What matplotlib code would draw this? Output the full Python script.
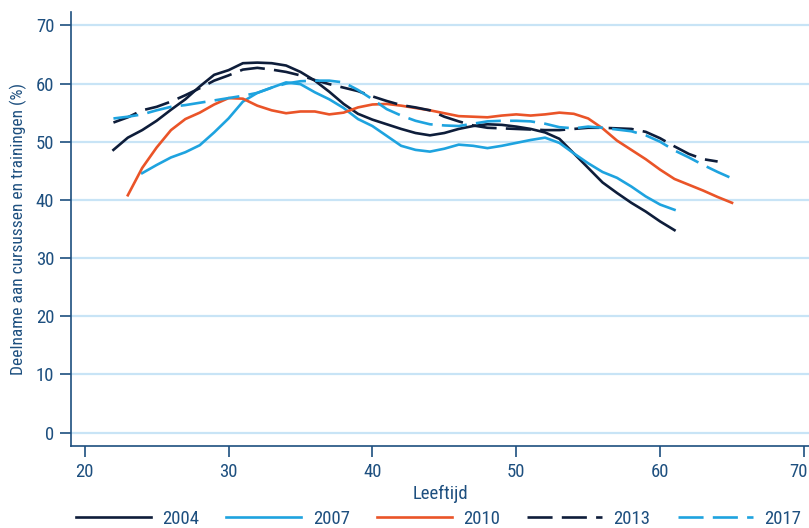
import matplotlib
matplotlib.use("Agg")
import matplotlib.pyplot as plt
from matplotlib import font_manager as fm
from matplotlib.transforms import ScaledTranslation
import numpy as np

# ---- data ----
ages_2004 = list(range(22, 62))
vals_2004 = [48.6, 50.7, 52.0, 53.6, 55.5, 57.3, 59.5, 61.5, 62.3, 63.5,
             63.6, 63.5, 63.1, 62.0, 60.5, 58.6, 56.5, 54.8, 53.8, 53.0,
             52.2, 51.5, 51.1, 51.5, 52.2, 52.7, 53.0, 52.9, 52.6, 52.2,
             51.6, 50.5, 48.0, 45.5, 43.0, 41.2, 39.5, 38.0, 36.3, 34.8]

ages_2007 = list(range(24, 62))
vals_2007 = [44.6, 46.0, 47.3, 48.2, 49.4, 51.6, 54.0, 56.9, 58.4, 59.3,
             60.2, 59.9, 58.5, 57.3, 55.8, 53.9, 52.7, 51.0, 49.3, 48.6,
             48.3, 48.8, 49.5, 49.3, 48.9, 49.3, 49.8, 50.3, 50.7, 49.8,
             48.0, 46.3, 44.8, 43.8, 42.3, 40.6, 39.2, 38.3]

ages_2010 = list(range(23, 66))
vals_2010 = [40.8, 45.5, 49.0, 52.0, 53.9, 55.0, 56.4, 57.5, 57.4, 56.2,
             55.4, 54.9, 55.2, 55.2, 54.7, 55.0, 55.9, 56.4, 56.5, 56.2,
             55.8, 55.4, 54.9, 54.4, 54.3, 54.2, 54.5, 54.7, 54.5, 54.7,
             55.0, 54.8, 54.0, 52.3, 50.2, 48.6, 47.0, 45.2, 43.6, 42.6,
             41.6, 40.5, 39.5]

ages_2013 = list(range(22, 65))
vals_2013 = [53.3, 54.2, 55.4, 56.0, 56.9, 58.0, 59.2, 60.5, 61.4, 62.4,
             62.7, 62.4, 62.0, 61.4, 60.6, 59.9, 59.3, 58.7, 57.8, 57.0,
             56.3, 55.9, 55.4, 54.3, 53.5, 52.8, 52.4, 52.3, 52.2, 52.1,
             52.0, 52.0, 52.2, 52.4, 52.4, 52.3, 52.2, 51.7, 50.6, 49.2,
             47.9, 47.0, 46.6]

ages_2017 = list(range(22, 66))
vals_2017 = [54.0, 54.3, 54.7, 55.4, 56.0, 56.3, 56.7, 57.1, 57.5, 57.9,
             58.4, 59.3, 60.0, 60.4, 60.5, 60.5, 60.2, 58.9, 57.3, 55.6,
             54.5, 53.6, 53.0, 52.8, 52.7, 53.1, 53.5, 53.6, 53.6, 53.5,
             53.1, 52.5, 52.3, 52.6, 52.4, 52.1, 51.8, 51.1, 50.0, 48.5,
             47.3, 46.0, 44.8, 43.7]

series_labels = ["2004", "2007", "2010", "2013", "2017"]
x_ticks = [20, 30, 40, 50, 60, 70]
y_ticks = [0, 10, 20, 30, 40, 50, 60, 70]

# ---- fonts: prefer a condensed face ----
fonts = fm.fontManager.ttflist
names = {f.name for f in fonts}
family = None
stretch = "normal"
for cand in ["Liberation Sans Narrow", "Roboto Condensed", "Noto Sans Condensed",
             "Open Sans Condensed", "Arial Narrow", "DejaVu Sans Condensed"]:
    if cand in names:
        family = cand
        break
if family is None:
    for base in ["Noto Sans", "Open Sans", "DejaVu Sans", "Roboto"]:
        if any(f.name == base and f.stretch in ("condensed", 75, "semi-condensed")
               for f in fonts):
            family = base
            stretch = "condensed"
            break
condensed = family is not None
if family is None:
    family = "DejaVu Sans"
plt.rcParams["font.family"] = [family, "DejaVu Sans"]
plt.rcParams["font.stretch"] = stretch

fs_tick = 13.5 if condensed else 11.5
fs_lab = 12.5 if condensed else 11
fs_leg = 13.5 if condensed else 11.5

NAVY = "#0e1d3a"
LBLUE = "#1ea3df"
ORANGE = "#ea5428"
AXC = "#1d4f7f"
GRID = "#c8e4f6"

fig = plt.figure(figsize=(8.09, 5.28), dpi=100)
ax = fig.add_axes([71/809, 82/528, 738/809, 434/528])

lw = 1.9
dash = (0, (9.5, 3.5))
ax.plot(ages_2004, vals_2004, color=NAVY, lw=lw, label=series_labels[0])
ax.plot(ages_2007, vals_2007, color=LBLUE, lw=lw, label=series_labels[1])
ax.plot(ages_2010, vals_2010, color=ORANGE, lw=lw, label=series_labels[2])
ax.plot(ages_2013, vals_2013, color=NAVY, lw=lw, ls=dash, label=series_labels[3])
ax.plot(ages_2017, vals_2017, color=LBLUE, lw=lw, ls=dash, label=series_labels[4])

ax.set_xlim(19.05, 70.35)
ax.set_ylim(-2.3, 72.3)
ax.set_xticks(x_ticks)
ax.set_yticks(y_ticks)
ax.yaxis.grid(True, color=GRID, lw=1.6)
ax.set_axisbelow(True)
for s in ["top", "right"]:
    ax.spines[s].set_visible(False)
for s in ["left", "bottom"]:
    ax.spines[s].set_color(AXC)
    ax.spines[s].set_linewidth(1.2)
ax.tick_params(axis="both", colors=AXC, labelcolor=AXC, labelsize=fs_tick,
               length=8, width=1.2, pad=4)
for lab in ax.get_xticklabels():
    if lab.get_text() == "70":
        lab.set_transform(lab.get_transform() +
                          ScaledTranslation(-4 / 72, 0, fig.dpi_scale_trans))
ax.set_xlabel("Leeftijd", color=AXC, fontsize=fs_tick, labelpad=3)
ax.set_ylabel("Deelname aan cursussen en trainingen (%)", color=AXC,
              fontsize=fs_lab, labelpad=6)

leg = fig.legend(loc="center", bbox_to_anchor=(0.542, 0.017), ncol=5,
                 frameon=False, fontsize=fs_leg,
                 handlelength=(4.0 if condensed else 4.7),
                 handletextpad=0.6,
                 columnspacing=(1.45 if condensed else 1.0))
for t in leg.get_texts():
    t.set_color(AXC)

fig.savefig("out.png", dpi=100)
